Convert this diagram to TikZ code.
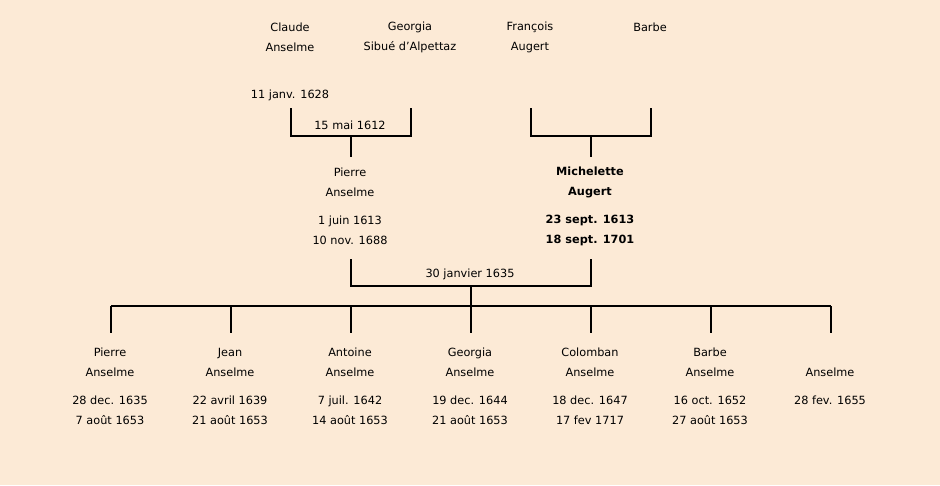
\documentclass[tikz,border=0pt]{standalone}
\usepackage{fontspec}
\setmainfont{DejaVu Sans}
\definecolor{bg}{RGB}{252,234,214}
\begin{document}
\begin{tikzpicture}[x=1pt,y=-1pt,
  txt/.style={inner sep=0pt,font=\fontsize{11.3}{13}\selectfont,align=center},
  bld/.style={txt,font=\fontsize{11.3}{13}\selectfont\bfseries},
  ln/.style={line width=1.6pt}]
\fill[bg] (0,0) rectangle (940,485);
\useasboundingbox (0,0) rectangle (940,485);
% top generation
\node[txt] (claude) at (290,37) {Claude\\[7pt]Anselme};
\node[txt] (georgia) at (410,37) {Georgia\\[7pt]Sibué d'Alpettaz};
\node[txt] (francois) at (530,37) {François\\[7pt]Augert};
\node[txt] (barbe) at (650,27) {Barbe};
\node[txt] (cdeath) at (290,95) {11 janv. 1628};
% bracket 1
\coordinate (b1l) at (291,108); \coordinate (b1r) at (411,108);
\coordinate (b1m) at (351,136); \coordinate (b1d) at (351,157);
\draw[ln] (b1l) |- (b1m) -| (b1r);
\draw[ln] (b1m) -- (b1d);
\node[txt] (m1) at (350,125) {15 mai 1612};
% bracket 2
\coordinate (b2l) at (531,108); \coordinate (b2r) at (651,108);
\coordinate (b2m) at (591,136); \coordinate (b2d) at (591,157);
\draw[ln] (b2l) |- (b2m) -| (b2r);
\draw[ln] (b2m) -- (b2d);
% parents
\node[txt] (pierre) at (350,182) {Pierre\\[7pt]Anselme};
\node[txt] (pdates) at (350,230) {1 juin 1613\\[7pt]10 nov. 1688};
\node[bld] (mich) at (590,182) {Michelette\\[7pt]Augert};
\node[bld] (mdates) at (590,230) {23 sept. 1613\\[7pt]18 sept. 1701};
% marriage
\coordinate (pl) at (351,259); \coordinate (pr) at (591,259);
\coordinate (pm) at (471,286); \coordinate (bar) at (471,306);
\draw[ln] (pl) |- (pm) -| (pr);
\draw[ln] (pm) -- (bar);
\node[txt] (m2) at (470,274) {30 janvier 1635};
\coordinate (barl) at (111,306); \coordinate (barr) at (831,306);
\draw[ln] (barl) -- (barr);
\foreach \x in {111,231,351,471,591,711,831}{
  \coordinate (c\x) at (\x,306); \coordinate (d\x) at (\x,333);
  \draw[ln] (c\x) -- (d\x);}
% children
\node[txt] (k1) at (110,362) {Pierre\\[7pt]Anselme};
\node[txt] (k1d) at (110,410) {28 dec. 1635\\[7pt]7 août 1653};
\node[txt] (k2) at (230,362) {Jean\\[7pt]Anselme};
\node[txt] (k2d) at (230,410) {22 avril 1639\\[7pt]21 août 1653};
\node[txt] (k3) at (350,362) {Antoine\\[7pt]Anselme};
\node[txt] (k3d) at (350,410) {7 juil. 1642\\[7pt]14 août 1653};
\node[txt] (k4) at (470,362) {Georgia\\[7pt]Anselme};
\node[txt] (k4d) at (470,410) {19 dec. 1644\\[7pt]21 août 1653};
\node[txt] (k5) at (590,362) {Colomban\\[7pt]Anselme};
\node[txt] (k5d) at (590,410) {18 dec. 1647\\[7pt]17 fev 1717};
\node[txt] (k6) at (710,362) {Barbe\\[7pt]Anselme};
\node[txt] (k6d) at (710,410) {16 oct. 1652\\[7pt]27 août 1653};
\node[txt] (k7) at (830,372) {Anselme};
\node[txt] (k7d) at (830,400) {28 fev. 1655};
\end{tikzpicture}
\end{document}
